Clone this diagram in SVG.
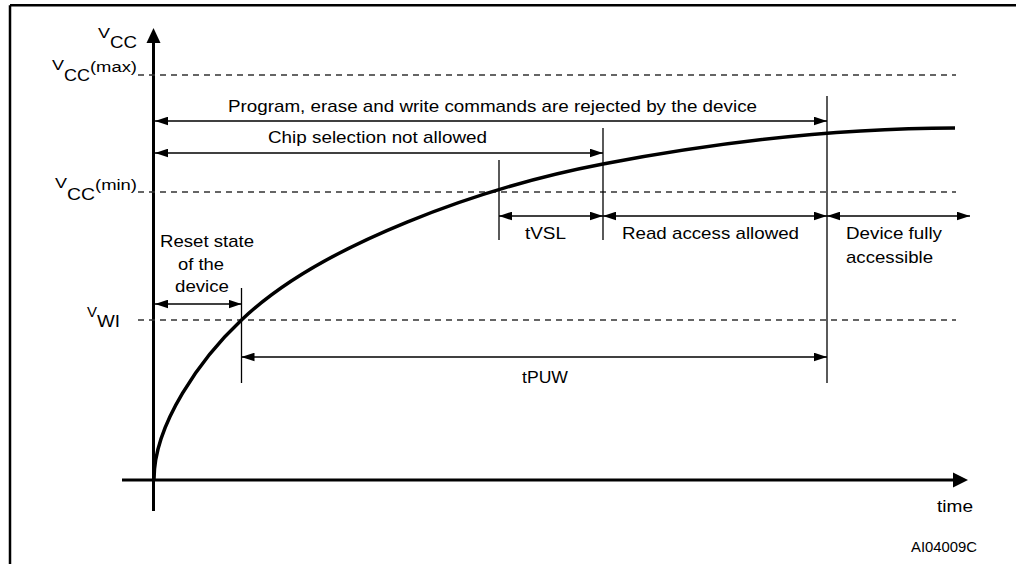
<svg xmlns="http://www.w3.org/2000/svg" width="1016" height="564" viewBox="0 0 1016 564">
<style>
text{font-family:"Liberation Sans",Arial,sans-serif;fill:#000}
.t{font-size:17px}
.v{font-size:14px}
.s{font-size:16px}
.p{font-size:14px}
.dash{stroke:#333;stroke-width:1.3;stroke-dasharray:6,5;fill:none}
.tick{stroke:#000;stroke-width:1.3;fill:none}
.dim{stroke:#000;stroke-width:1.3;fill:none;marker-start:url(#ah);marker-end:url(#ah)}
.axis{stroke:#000;stroke-width:3;fill:none}
</style>
<defs>
<marker id="ah" markerUnits="userSpaceOnUse" markerWidth="13" markerHeight="9" refX="13" refY="4.3" orient="auto-start-reverse" viewBox="0 0 13 8.6">
<path d="M0,0 L13,4.3 L0,8.6 z" fill="#000"/>
</marker>
</defs>
<rect width="1016" height="564" fill="#fff"/>
<g id="frame">
<path d="M10,5.2 H1016 M10,5.2 V564" stroke="#000" stroke-width="2.5" fill="none"/>
</g>
<g id="axes">
<line class="axis" x1="153.5" y1="40" x2="153.5" y2="511"/>
<path d="M153.5,28 L160.5,43 L146.5,43 z" fill="#000"/>
<line class="axis" x1="122" y1="480" x2="956" y2="480"/>
<path d="M968,480 L953,472.5 L953,487.5 z" fill="#000"/>
<text class="t" x="937" y="512" textLength="36" lengthAdjust="spacingAndGlyphs">time</text>
</g>
<g id="levels">
<line class="dash" x1="138" y1="75" x2="956" y2="75"/>
<line class="dash" x1="138" y1="192" x2="956" y2="192"/>
<line class="dash" x1="138" y1="320" x2="956" y2="320"/>
</g>
<g id="label-vcc">
<text class="v" x="98" y="38" textLength="12" lengthAdjust="spacingAndGlyphs">V</text>
<text class="s" x="110" y="48" textLength="27" lengthAdjust="spacingAndGlyphs">CC</text>
</g>
<g id="label-vccmax">
<text class="v" x="52" y="70" textLength="12" lengthAdjust="spacingAndGlyphs">V</text>
<text class="s" x="64" y="81" textLength="26" lengthAdjust="spacingAndGlyphs">CC</text>
<text class="p" x="90" y="72" textLength="47" lengthAdjust="spacingAndGlyphs">(max)</text>
</g>
<g id="label-vccmin">
<text class="v" x="55" y="188" textLength="12" lengthAdjust="spacingAndGlyphs">V</text>
<text class="s" x="67" y="200" textLength="28" lengthAdjust="spacingAndGlyphs">CC</text>
<text class="p" x="95" y="190" textLength="42" lengthAdjust="spacingAndGlyphs">(min)</text>
</g>
<g id="label-vwi">
<text class="v" x="87" y="317" textLength="10" lengthAdjust="spacingAndGlyphs">V</text>
<text class="s" x="97" y="327" textLength="23" lengthAdjust="spacingAndGlyphs">WI</text>
</g>
<g id="curve">
<path d="M154,479 C154,424 201,358 241.5,320 C321,244 483,186.8 603,164 C733,139.3 855,128 955,128" stroke="#000" stroke-width="3.5" fill="none"/>
</g>
<g id="connectors">
<line class="tick" x1="241.5" y1="288" x2="241.5" y2="383"/>
<line class="tick" x1="499" y1="160" x2="499" y2="240"/>
<line class="tick" x1="603" y1="128" x2="603" y2="240"/>
<line class="tick" x1="827" y1="96" x2="827" y2="383"/>
<line class="dim" x1="155" y1="121" x2="827" y2="121"/>
<line class="dim" x1="155" y1="153" x2="603" y2="153"/>
<line class="dim" x1="155" y1="304" x2="241.5" y2="304"/>
<line class="dim" x1="499" y1="216" x2="603" y2="216"/>
<line class="dim" x1="603" y1="216" x2="827" y2="216"/>
<line class="dim" x1="827" y1="216" x2="970" y2="216"/>
<line class="dim" x1="241.5" y1="357" x2="827" y2="357"/>
</g>
<g id="label-program">
<text class="t" x="228" y="112" textLength="529" lengthAdjust="spacingAndGlyphs">Program, erase and write commands are rejected by the device</text>
</g>
<g id="label-chip">
<text class="t" x="268" y="143" textLength="219" lengthAdjust="spacingAndGlyphs">Chip selection not allowed</text>
</g>
<g id="label-reset">
<text class="t" x="160" y="247" textLength="94" lengthAdjust="spacingAndGlyphs">Reset state</text>
<text class="t" x="178" y="270" textLength="46" lengthAdjust="spacingAndGlyphs">of the</text>
<text class="t" x="175" y="292" textLength="54" lengthAdjust="spacingAndGlyphs">device</text>
</g>
<g id="label-tvsl">
<text class="t" x="525" y="239" textLength="41" lengthAdjust="spacingAndGlyphs">tVSL</text>
</g>
<g id="label-read">
<text class="t" x="622" y="239" textLength="177" lengthAdjust="spacingAndGlyphs">Read access allowed</text>
</g>
<g id="label-full">
<text class="t" x="846" y="239" textLength="96" lengthAdjust="spacingAndGlyphs">Device fully</text>
<text class="t" x="846" y="263" textLength="87" lengthAdjust="spacingAndGlyphs">accessible</text>
</g>
<g id="label-tpuw">
<text class="t" x="522" y="383" textLength="46" lengthAdjust="spacingAndGlyphs">tPUW</text>
</g>
<g id="label-ref">
<text x="911" y="552" font-size="14" textLength="66" lengthAdjust="spacingAndGlyphs">AI04009C</text>
</g>
</svg>
